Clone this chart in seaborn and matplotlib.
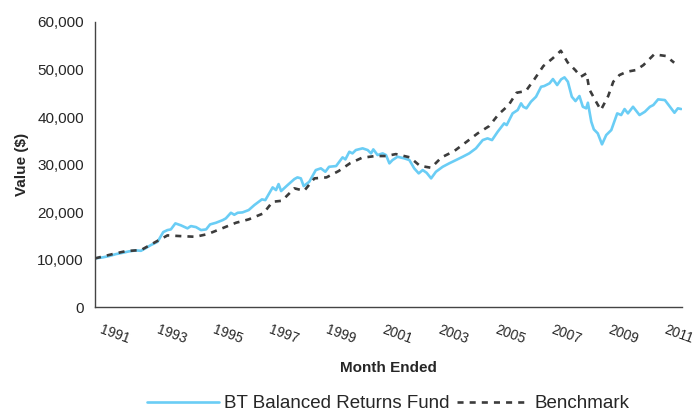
import pandas as pd
import matplotlib.pyplot as plt
import matplotlib.transforms as mtransforms
from matplotlib.ticker import FuncFormatter
import seaborn as sns

# Fund values (decimal year, value in $)
fund_year = [1991.00, 1991.27, 1991.50, 1991.74, 1991.98, 1992.20, 1992.45, 1992.63, 1992.80, 1992.98,
             1993.22, 1993.42, 1993.57, 1993.69, 1993.85, 1994.05, 1994.28, 1994.40, 1994.58, 1994.76,
             1994.94, 1995.08, 1995.29, 1995.53, 1995.64, 1995.82, 1995.94, 1996.06, 1996.23, 1996.45,
             1996.65, 1996.92, 1997.04, 1997.30, 1997.42, 1997.51, 1997.60, 1997.83, 1998.07, 1998.18,
             1998.30, 1998.40, 1998.60, 1998.83, 1999.01, 1999.17, 1999.30, 1999.55, 1999.78, 1999.88,
             2000.02, 2000.13, 2000.25, 2000.49, 2000.67, 2000.79, 2000.87, 2001.02, 2001.20, 2001.32,
             2001.44, 2001.55, 2001.73, 2001.97, 2002.15, 2002.32, 2002.48, 2002.62, 2002.76, 2002.92,
             2003.09, 2003.33, 2003.56, 2003.80, 2004.04, 2004.27, 2004.51, 2004.75, 2004.92, 2005.08,
             2005.28, 2005.51, 2005.60, 2005.81, 2005.99, 2006.11, 2006.19, 2006.30, 2006.46, 2006.64,
             2006.82, 2006.93, 2007.12, 2007.24, 2007.39, 2007.53, 2007.65, 2007.77, 2007.91, 2008.04,
             2008.18, 2008.30, 2008.42, 2008.48, 2008.60, 2008.69, 2008.83, 2008.98, 2009.13, 2009.31,
             2009.52, 2009.66, 2009.78, 2009.90, 2010.08, 2010.31, 2010.50, 2010.68, 2010.80, 2010.97,
             2011.21, 2011.39, 2011.55, 2011.67, 2011.79]
fund_value = [10250, 10460, 10740, 11150, 11430, 11720, 11930, 11850, 12420, 13050,
              13750, 15790, 16210, 16350, 17620, 17200, 16570, 17050, 16840, 16210,
              16350, 17400, 17750, 18310, 18670, 19850, 19430, 19850, 19930, 20420,
              21470, 22670, 22520, 25190, 24630, 25890, 24420, 25680, 26940, 27300,
              27090, 25470, 26380, 28840, 29200, 28480, 29530, 29680, 31510, 31090,
              32690, 32350, 33050, 33410, 33050, 32350, 33190, 32000, 32350, 32000,
              30250, 30940, 31640, 31300, 30940, 29200, 28140, 28840, 28270, 27090,
              28480, 29530, 30250, 30940, 31640, 32350, 33410, 35150, 35510, 35150,
              36900, 38670, 38310, 40770, 41470, 42880, 42160, 41830, 43220, 44270,
              46370, 46520, 47090, 47990, 46730, 47930, 48350, 47430, 44270, 43360,
              44420, 42160, 41830, 43010, 39010, 37410, 36560, 34250, 36210, 37260,
              40770, 40420, 41680, 40770, 42160, 40420, 41110, 42160, 42520, 43720,
              43570, 42160, 40900, 41830, 41680]

# Benchmark values
bench_year = [1991.00, 1991.62, 1992.10, 1992.63, 1993.16, 1993.57, 1994.00, 1994.56, 1995.00, 1995.53,
              1996.00, 1996.45, 1996.97, 1997.30, 1997.63, 1998.07, 1998.42, 1998.78, 1999.21, 1999.64,
              2000.04, 2000.47, 2000.94, 2001.32, 2001.67, 2002.17, 2002.52, 2002.92, 2003.29, 2003.74,
              2004.18, 2004.57, 2004.98, 2005.31, 2005.67, 2005.95, 2006.28, 2006.58, 2006.90, 2007.23,
              2007.52, 2007.76, 2008.03, 2008.23, 2008.43, 2008.53, 2008.79, 2008.94, 2009.20, 2009.38,
              2009.60, 2009.86, 2010.19, 2010.45, 2010.83, 2011.25, 2011.54]
bench_value = [10250, 11150, 11790, 12000, 13750, 15090, 14950, 14800, 15370, 16630,
               17750, 18460, 19720, 22170, 22380, 24990, 24480, 27090, 27300, 28630,
               30250, 31430, 31790, 31790, 32200, 31510, 29740, 29320, 31510, 32840,
               34800, 36560, 38100, 40560, 42520, 45110, 45470, 47930, 50730, 52350,
               53950, 51510, 49890, 48480, 49190, 45830, 43010, 41470, 44420, 47430,
               48840, 49530, 49890, 50940, 53190, 52840, 51430]

tick_years = list(range(1991, 2012))
tick_labels = [str(y) if (y - 1991) % 2 == 0 else '' for y in tick_years]

fund = pd.DataFrame({'Year': fund_year, 'Value': fund_value})
bench = pd.DataFrame({'Year': bench_year, 'Value': bench_value})

sns.set_style('white')
plt.rcParams['font.family'] = ['Liberation Sans', 'DejaVu Sans']

fig = plt.figure(figsize=(6.96, 4.15), dpi=100)
ax = fig.add_axes([0.1365, 0.26, 0.8435, 0.687])

sns.lineplot(data=fund, x='Year', y='Value', ax=ax, color='#6ACDF5', linewidth=1.9,
             label='BT Balanced Returns Fund')
sns.lineplot(data=bench, x='Year', y='Value', ax=ax, color='#3C3C3C', linewidth=1.9,
             linestyle=(0, (2.3, 2.3)), label='Benchmark')

ax.set_xlim(1991, 2011.82)
ax.set_ylim(0, 60000)
ax.set_yticks(range(0, 60001, 10000))
ax.yaxis.set_major_formatter(FuncFormatter(lambda v, p: f'{int(v):,}'))

ax.tick_params(axis='both', which='major', length=5, width=1, color='#444444',
               labelsize=11, direction='out')
ax.tick_params(axis='x', labelsize=10)
ax.tick_params(axis='y', pad=3)
for side in ['top', 'right']:
    ax.spines[side].set_visible(False)
for side in ['left', 'bottom']:
    ax.spines[side].set_color('#444444')
    ax.spines[side].set_linewidth(1)

# year labels every other tick, tilted like the original
ax.set_xticks(tick_years)
ax.set_xticklabels(tick_labels, rotation=-20, ha='left', va='top', rotation_mode='anchor')
offset = mtransforms.ScaledTranslation(8 / 100, -4 / 100, fig.dpi_scale_trans)
for tick in ax.xaxis.get_major_ticks():
    tick.label1.set_transform(tick.label1.get_transform() + offset)

ax.set_xlabel('Month Ended', fontsize=11, fontweight='bold', labelpad=10)
ax.set_ylabel('Value ($)', fontsize=11, fontweight='bold', labelpad=6)

ax.legend(loc='center', bbox_to_anchor=(0.558, 0.027), bbox_transform=fig.transFigure,
          ncol=2, frameon=False, fontsize=13.5, handlelength=3.8, columnspacing=0.4,
          handletextpad=0.3)

fig.savefig('out.png', dpi=100)
